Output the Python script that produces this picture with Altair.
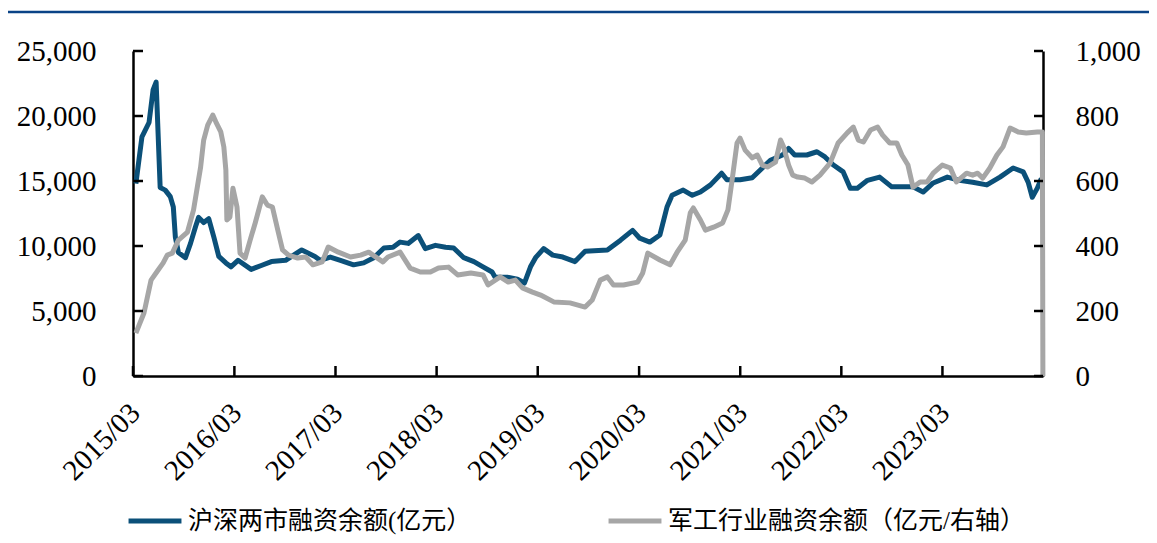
import altair as alt
import pandas as pd

# ---- data (decimal year, value) ----
blue_name = "沪深两市融资余额(亿元）"
gray_name = "军工行业融资余额（亿元/右轴）"

blue_t = [2015.19, 2015.25, 2015.32, 2015.36, 2015.39, 2015.43, 2015.48, 2015.53, 2015.56, 2015.58,
          2015.61, 2015.68, 2015.73, 2015.78, 2015.81, 2015.86, 2015.91, 2015.96, 2016.01, 2016.08,
          2016.13, 2016.20, 2016.33, 2016.43, 2016.53, 2016.67, 2016.83, 2016.96, 2017.01, 2017.11,
          2017.21, 2017.34, 2017.44, 2017.54, 2017.64, 2017.73, 2017.80, 2017.88, 2017.98, 2018.05,
          2018.15, 2018.25, 2018.33, 2018.43, 2018.53, 2018.62, 2018.71, 2018.74, 2018.86, 2018.96,
          2019.03, 2019.09, 2019.14, 2019.22, 2019.31, 2019.41, 2019.53, 2019.63, 2019.85, 2019.98,
          2020.10, 2020.17, 2020.27, 2020.37, 2020.44, 2020.49, 2020.60, 2020.69, 2020.77, 2020.87,
          2020.98, 2021.03, 2021.16, 2021.28, 2021.36, 2021.46, 2021.58, 2021.64, 2021.70, 2021.82,
          2021.92, 2022.00, 2022.08, 2022.18, 2022.25, 2022.32, 2022.42, 2022.54, 2022.66, 2022.77,
          2022.87, 2022.97, 2023.07, 2023.21, 2023.33, 2023.46, 2023.60, 2023.73, 2023.86, 2023.96,
          2024.01, 2024.05, 2024.10, 2024.14]
blue_v = [14800, 18400, 19500, 22000, 22600, 14500, 14300, 13800, 13000, 10700,
          9500, 9100, 10200, 11500, 12200, 11800, 12100, 10700, 9200, 8700,
          8400, 8900, 8200, 8500, 8800, 8900, 9700, 9200, 8900, 9150,
          8900, 8550, 8700, 9100, 9850, 9900, 10300, 10200, 10800, 9800,
          10050, 9900, 9850, 9100, 8800, 8400, 8000, 7600, 7600, 7450,
          7150, 8400, 9100, 9800, 9300, 9150, 8800, 9600, 9700, 10450,
          11200, 10600, 10300, 10850, 13000, 13900, 14300, 13900, 14150, 14700,
          15600, 15100, 15100, 15250, 15850, 16600, 17000, 17500, 17000, 17000,
          17250, 16850, 16250, 15700, 14450, 14450, 15050, 15300, 14550, 14550,
          14550, 14150, 14850, 15300, 15050, 14900, 14700, 15300, 16000, 15700,
          14900, 13750, 14450, 15200]

gray_t = [2015.19, 2015.27, 2015.34, 2015.41, 2015.46, 2015.50, 2015.55, 2015.61, 2015.70, 2015.76,
          2015.83, 2015.86, 2015.90, 2015.95, 2015.98, 2016.03, 2016.06, 2016.08, 2016.09, 2016.12,
          2016.15, 2016.19, 2016.22, 2016.27, 2016.32, 2016.37, 2016.44, 2016.49, 2016.54, 2016.60,
          2016.64, 2016.70, 2016.79, 2016.87, 2016.94, 2017.03, 2017.09, 2017.19, 2017.31, 2017.41,
          2017.49, 2017.63, 2017.68, 2017.80, 2017.90, 2018.00, 2018.10, 2018.18, 2018.28, 2018.37,
          2018.50, 2018.62, 2018.67, 2018.79, 2018.87, 2018.94, 2019.01, 2019.11, 2019.19, 2019.32,
          2019.48, 2019.63, 2019.70, 2019.78, 2019.85, 2019.91, 2020.01, 2020.15, 2020.20, 2020.25,
          2020.37, 2020.47, 2020.54, 2020.62, 2020.67, 2020.70, 2020.77, 2020.82, 2020.90, 2020.99,
          2021.04, 2021.08, 2021.13, 2021.16, 2021.21, 2021.28, 2021.33, 2021.38, 2021.43, 2021.51,
          2021.56, 2021.59, 2021.64, 2021.68, 2021.73, 2021.80, 2021.87, 2021.95, 2022.05, 2022.13,
          2022.22, 2022.28, 2022.33, 2022.38, 2022.45, 2022.52, 2022.57, 2022.64, 2022.71, 2022.76,
          2022.82, 2022.87, 2022.94, 2023.01, 2023.07, 2023.16, 2023.24, 2023.30, 2023.40, 2023.46,
          2023.51, 2023.56, 2023.63, 2023.70, 2023.76, 2023.83, 2023.91, 2023.99, 2024.10, 2024.15,
          2024.155]
gray_v = [132, 194, 295, 326, 348, 372, 378, 418, 443, 511,
          643, 726, 772, 803, 782, 751, 705, 634, 480, 489,
          578, 520, 378, 363, 418, 471, 551, 526, 520, 440,
          388, 372, 363, 366, 342, 351, 397, 381, 366, 372,
          381, 351, 366, 381, 332, 320, 320, 332, 335, 311,
          317, 311, 280, 305, 289, 295, 271, 258, 249, 228,
          225, 212, 234, 295, 305, 280, 280, 289, 317, 378,
          357, 342, 381, 418, 502, 517, 480, 449, 458, 471,
          511, 600, 717, 732, 695, 671, 680, 649, 643, 658,
          726, 705, 649, 618, 612, 609, 597, 618, 655, 717,
          748, 766, 726, 720, 757, 766, 741, 717, 717, 680,
          649, 581, 597, 597, 624, 649, 640, 597, 624, 618,
          624, 609, 640, 680, 705, 763, 751, 748, 751, 751,
          0]

left_ticks = [0, 5000, 10000, 15000, 20000, 25000]
right_ticks = [0, 200, 400, 600, 800, 1000]
tick_years = [2015, 2016, 2017, 2018, 2019, 2020, 2021, 2022, 2023]


def to_ts(t):
    y = int(t)
    return pd.Timestamp(y, 1, 1) + pd.Timedelta(days=(t - y) * 365.25)


df_blue = pd.DataFrame({"date": [to_ts(t) for t in blue_t], "v": blue_v, "series": blue_name})
df_gray = pd.DataFrame({"date": [to_ts(t) for t in gray_t], "v": gray_v, "series": gray_name})
df_lt = pd.DataFrame({"v": left_ticks})
df_rt = pd.DataFrame({"v": right_ticks})
df_bt = pd.DataFrame({"date": [pd.Timestamp(y, 3, 1) for y in tick_years]})
df_one = pd.DataFrame({"a": [0]})

NUM_FONT = "Liberation Serif"
LEG_FONT = 'Liberation Serif, "Noto Sans CJK SC"'
BLUE = "#0B5079"
GRAY = "#A6A6A6"

W, H = 910, 325

xscale = alt.Scale(domain=[alt.DateTime(year=2015, month=3, date=1),
                           alt.DateTime(year=2024, month=2, date=27)])

color = alt.Color(
    "series:N",
    scale=alt.Scale(domain=[blue_name, gray_name], range=[BLUE, GRAY]),
    legend=alt.Legend(
        orient="none", legendX=-7, legendY=441, direction="horizontal", title=None,
        symbolType="stroke", symbolSize=2800, symbolStrokeWidth=5,
        labelFont=LEG_FONT, labelFontSize=25, labelColor="#000000", labelLimit=1000,
        columnPadding=126, labelOffset=4, padding=0,
    ),
)


def x_axis():
    return alt.Axis(
        values=[alt.DateTime(year=y, month=3, date=1) for y in tick_years],
        format="%Y/%m", labelAngle=-45, labelPadding=22, labelOffset=-8,
        ticks=False, grid=False, title=None, domainColor="#000000", domainWidth=2.5,
        labelFont=NUM_FONT, labelFontSize=29, labelColor="#000000",
        labelOverlap=False, labelFlush=False,
    )


blue = alt.Chart(df_blue).mark_line(strokeWidth=5, strokeJoin="round").encode(
    x=alt.X("date:T", scale=xscale, axis=x_axis()),
    y=alt.Y("v:Q", scale=alt.Scale(domain=[0, 25000], nice=False),
            axis=alt.Axis(orient="left", values=left_ticks, format=",d", ticks=False, grid=False,
                          title=None, labelPadding=37, domainColor="#000000", domainWidth=2.5,
                          labelFont=NUM_FONT, labelFontSize=29, labelColor="#000000")),
    color=color,
)

gray = alt.Chart(df_gray).mark_line(strokeWidth=5, strokeJoin="round").encode(
    x=alt.X("date:T", scale=xscale, axis=x_axis()),
    y=alt.Y("v:Q", scale=alt.Scale(domain=[0, 1000], nice=False),
            axis=alt.Axis(orient="right", values=right_ticks, format=",d", ticks=False, grid=False,
                          title=None, labelPadding=32, domainColor="#000000", domainWidth=2.5,
                          labelFont=NUM_FONT, labelFontSize=29, labelColor="#000000")),
    color=color,
)

lt = alt.Chart(df_lt).mark_rule(color="#000000", strokeWidth=2.5).encode(
    y=alt.Y("v:Q", scale=alt.Scale(domain=[0, 25000], nice=False), axis=None),
    x=alt.value(0), x2=alt.value(10),
)
rt = alt.Chart(df_rt).mark_rule(color="#000000", strokeWidth=2.5).encode(
    y=alt.Y("v:Q", scale=alt.Scale(domain=[0, 1000], nice=False), axis=None),
    x=alt.value(W - 9), x2=alt.value(W),
)
bt = alt.Chart(df_bt).mark_rule(color="#000000", strokeWidth=2.5).encode(
    x=alt.X("date:T", scale=xscale, axis=x_axis()),
    y=alt.value(H), y2=alt.value(H - 10),
)
top = alt.Chart(df_one).mark_rule(color="#0A4386", strokeWidth=2.5).encode(
    x=alt.value(-125), x2=alt.value(1016), y=alt.value(-39),
)

chart = alt.layer(blue, gray, top, lt, rt, bt).resolve_scale(y="independent").properties(
    width=W, height=H,
    padding={"left": 125, "top": 43, "right": 106, "bottom": 159},
    autosize=alt.AutoSizeParams(type="none"),
    background="#FFFFFF",
).configure_view(stroke=None)

chart.save("out.html", embed_options={"renderer": "svg", "actions": False})
